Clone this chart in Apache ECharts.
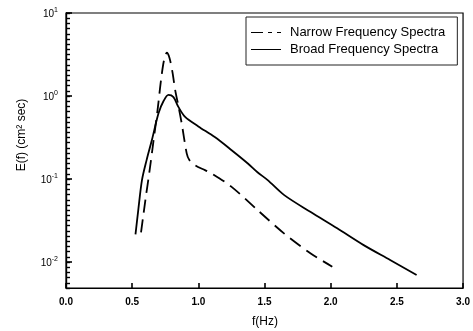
<!DOCTYPE html>
<html>
<head>
<meta charset="utf-8">
<script src="https://cdn.jsdelivr.net/npm/echarts@6/dist/echarts.min.js"></script>
<style>
html,body{margin:0;padding:0;background:#fff;}
#c{width:473px;height:331px;}
</style>
</head>
<body>
<div id="c"></div>
<script>
// Data
var seriesNames = ['Narrow Frequency Spectra', 'Broad Frequency Spectra'];
var narrowF = [0.567, 0.600, 0.632, 0.662, 0.692, 0.718, 0.741, 0.762, 0.782, 0.804, 0.825, 0.850, 0.874, 0.912, 0.932, 0.975, 1.05, 1.10, 1.249, 1.449, 1.649, 1.849, 2.012];
var narrowE = [0.0228, 0.056, 0.128, 0.295, 0.68, 1.56, 2.72, 3.32, 2.87, 1.95, 1.18, 0.75, 0.47, 0.204, 0.17, 0.147, 0.128, 0.117, 0.081, 0.042, 0.022, 0.0127, 0.0088];
var broadF = [0.525, 0.546, 0.574, 0.609, 0.649, 0.699, 0.737, 0.774, 0.812, 0.849, 0.90, 1.0, 1.124, 1.249, 1.374, 1.449, 1.524, 1.649, 1.849, 2.049, 2.249, 2.449, 2.649];
var broadE = [0.0216, 0.0423, 0.097, 0.169, 0.295, 0.62, 0.87, 1.03, 0.97, 0.74, 0.56, 0.43, 0.32, 0.224, 0.154, 0.12, 0.097, 0.064, 0.040, 0.0255, 0.016, 0.0106, 0.0070];
var xMin = 0, xMax = 3, xStep = 0.5;
var yLogMin = -2.3125, yLogMax = 1, yMinorStep = 0.0625;

function pairs(xs, ys) { return xs.map(function (x, i) { return [x, ys[i]]; }); }

var FONT = '"Liberation Sans", Arial, sans-serif';
var chart = echarts.init(document.getElementById('c'), null, { renderer: 'canvas' });
chart.setOption({
  backgroundColor: '#fff',
  animation: false,
  textStyle: { fontFamily: FONT, color: '#000' },
  grid: { left: 66, right: 6, top: 13, bottom: 43, show: true, borderColor: '#000', borderWidth: 1.2, backgroundColor: 'transparent' },
  legend: {
    data: [
      { name: seriesNames[0], icon: 'path://M0,0h12v1h-12z M17,0h4v1h-4z M26,0h4v1h-4z' },
      { name: seriesNames[1], icon: 'path://M0,0h30v1h-30z' }
    ],
    orient: 'vertical',
    left: 246, top: 17,
    backgroundColor: '#fff',
    borderColor: '#222', borderWidth: 1,
    padding: [9, 12, 9, 5],
    itemWidth: 30, itemHeight: 2, itemGap: 4,
    textStyle: { fontFamily: FONT, fontSize: 13, color: '#000', padding: [0, 0, 0, 4] }
  },
  xAxis: {
    type: 'value', min: xMin, max: xMax, interval: xStep,
    axisLine: { onZero: false, lineStyle: { color: '#000', width: 1.2 } },
    axisTick: { show: true, inside: true, length: 5, lineStyle: { color: '#000', width: 1.6 } },
    axisLabel: { fontFamily: FONT, fontSize: 10, fontWeight: 'bold', color: '#000', margin: 9,
      formatter: function (v) { return v.toFixed(1); } },
    splitLine: { show: false }
  },
  yAxis: [{
    type: 'log', logBase: 10, min: Math.pow(10, yLogMin), max: Math.pow(10, yLogMax),
    axisLine: { lineStyle: { color: '#000', width: 1.2 } },
    axisTick: { show: true, inside: true, length: 6, lineStyle: { color: '#000', width: 1.6 } },
    axisLabel: {
      showMinLabel: false, margin: 8,
      formatter: function (v) { var e = Math.round(Math.log10(v)); return '{b|10}{s|' + e + '}'; },
      rich: {
        b: { fontFamily: FONT, fontSize: 10, color: '#000', lineHeight: 12, verticalAlign: 'bottom' },
        s: { fontFamily: FONT, fontSize: 7, color: '#000', lineHeight: 12, verticalAlign: 'top', padding: [0, 0, 4, 0] }
      }
    },
    splitLine: { show: false }
  }, {
    // tick-only axis in log10 space, drawing the small ticks of the log axis
    type: 'value', position: 'left', offset: 0, min: yLogMin, max: yLogMax, interval: yMinorStep,
    axisLine: { show: true, onZero: false, lineStyle: { color: '#000', width: 1.2 } },
    axisTick: { show: true, inside: true, length: 4, lineStyle: { color: '#000', width: 1.4 } },
    axisLabel: { show: false },
    splitLine: { show: false }
  }],
  graphic: [
    { type: 'text', x: 22, y: 135, rotation: Math.PI / 2,
      style: { text: 'E(f) (cm² sec)', fontFamily: FONT, fontSize: 12, fill: '#000', textAlign: 'center', textVerticalAlign: 'middle' } },
    { type: 'text', x: 265, y: 322,
      style: { text: 'f(Hz)', fontFamily: FONT, fontSize: 12, fill: '#000', textAlign: 'center', textVerticalAlign: 'middle' } }
  ],
  series: [
    { name: seriesNames[0], type: 'line', yAxisIndex: 0, data: pairs(narrowF, narrowE), symbol: 'none', smooth: 0.3,
      lineStyle: { color: '#000', width: 1.8, type: [13, 7] }, itemStyle: { color: '#000' } },
    { name: seriesNames[1], type: 'line', yAxisIndex: 0, data: pairs(broadF, broadE), symbol: 'none', smooth: 0.3,
      lineStyle: { color: '#000', width: 1.8 }, itemStyle: { color: '#000' } },
    { name: 'ticks', type: 'line', yAxisIndex: 1, data: [], symbol: 'none', silent: true }
  ]
});
</script>
</body>
</html>
